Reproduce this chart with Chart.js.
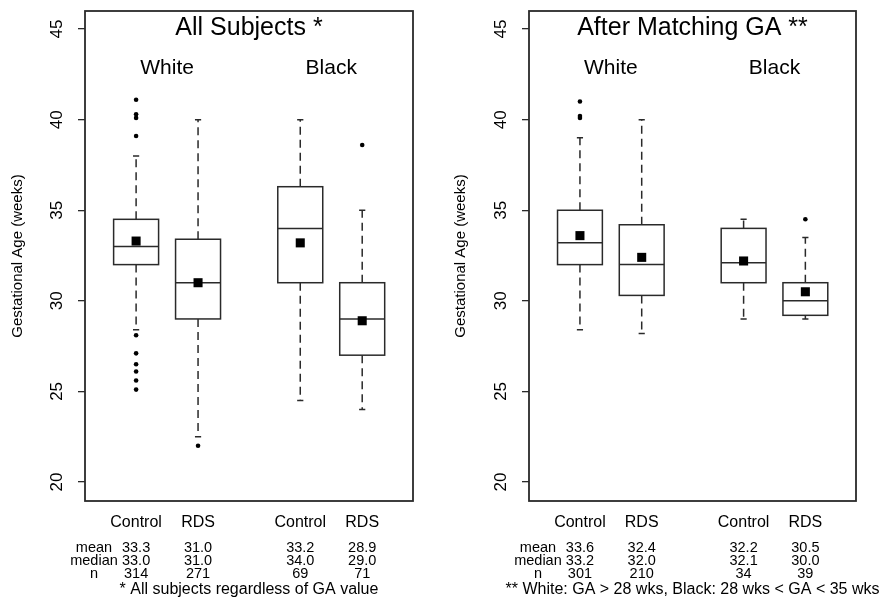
<!DOCTYPE html>
<html>
<head>
<meta charset="utf-8">
<script src="https://cdn.jsdelivr.net/npm/chart.js@4.4.1/dist/chart.umd.min.js"></script>
<style>
  body { margin: 0; background: #fff; }
  #wrap { position: relative; width: 882px; height: 599px; }
  canvas { position: absolute; top: 0; }
</style>
</head>
<body>
<div id="wrap">
  <canvas id="left" width="441" height="599" style="left:0"></canvas>
  <canvas id="right" width="441" height="599" style="left:441px"></canvas>
</div>
<script>
// shared labels / positions
const categories = ['Control', 'RDS', 'Control', 'RDS'];
const races = ['White', 'Black'];
const xPositions = [1, 2, 3.65, 4.65];
const yTicks = [20, 25, 30, 35, 40, 45];
const statLabels = ['mean', 'median', 'n'];

// panel 1: all subjects
const allLow = [28.4, 22.5, 24.5, 24.0];
const allQ1 = [32.0, 29.0, 31.0, 27.0];
const allMedian = [33.0, 31.0, 34.0, 29.0];
const allQ3 = [34.5, 33.4, 36.3, 31.0];
const allHigh = [38.0, 40.0, 40.0, 35.0];
const allMean = [33.3, 31.0, 33.2, 28.9];
const allN = [314, 271, 69, 71];
const allOutliers = [
    [41.1, 40.3, 40.1, 39.1, 28.1, 27.1, 26.5, 26.1, 25.6, 25.1],
    [22.0],
    [],
    [38.6]
];

// panel 2: after matching GA
const gaLow = [28.4, 28.2, 29.0, 29.0];
const gaQ1 = [32.0, 30.3, 31.0, 29.2];
const gaMedian = [33.2, 32.0, 32.1, 30.0];
const gaQ3 = [35.0, 34.2, 34.0, 31.0];
const gaHigh = [39.0, 40.0, 34.5, 33.5];
const gaMean = [33.6, 32.4, 32.2, 30.5];
const gaN = [301, 210, 34, 39];
const gaOutliers = [
    [41.0, 40.2, 40.1],
    [],
    [],
    [34.5]
];

const FONT = "'Liberation Sans', Arial, sans-serif";
const ink = '#000';
const lineCol = '#2a2a2a';
const boxHalf = 0.363;
const capHalf = 0.05;

const boxPlugin = {
    id: 'boxes',
    beforeDatasetsDraw(chart) {
        const p = chart.options.plugins.boxes;
        const { ctx } = chart;
        const xs = chart.scales.x, ys = chart.scales.y;
        ctx.save();
        ctx.strokeStyle = lineCol;
        ctx.lineWidth = 1.5;
        xPositions.forEach((pos, i) => {
            const cx = xs.getPixelForValue(pos);
            const hw = xs.getPixelForValue(pos + boxHalf) - cx;
            const cw = xs.getPixelForValue(pos + capHalf) - cx;
            const yq1 = ys.getPixelForValue(p.q1[i]);
            const yq3 = ys.getPixelForValue(p.q3[i]);
            const ymed = ys.getPixelForValue(p.median[i]);
            const ylo = ys.getPixelForValue(p.low[i]);
            const yhi = ys.getPixelForValue(p.high[i]);
            // whiskers
            ctx.setLineDash([8, 5]);
            ctx.beginPath();
            ctx.moveTo(cx, yq3); ctx.lineTo(cx, yhi);
            ctx.moveTo(cx, yq1); ctx.lineTo(cx, ylo);
            ctx.stroke();
            ctx.setLineDash([]);
            ctx.beginPath();
            ctx.moveTo(cx - cw, yhi); ctx.lineTo(cx + cw, yhi);
            ctx.moveTo(cx - cw, ylo); ctx.lineTo(cx + cw, ylo);
            ctx.stroke();
            // box
            ctx.fillStyle = '#fff';
            ctx.fillRect(cx - hw, yq3, hw * 2, yq1 - yq3);
            ctx.strokeRect(cx - hw, yq3, hw * 2, yq1 - yq3);
            ctx.beginPath();
            ctx.moveTo(cx - hw, ymed); ctx.lineTo(cx + hw, ymed);
            ctx.stroke();
        });
        ctx.restore();
    },
    afterDraw(chart) {
        const p = chart.options.plugins.boxes;
        const { ctx, chartArea: a } = chart;
        const xs = chart.scales.x, ys = chart.scales.y;
        const mid = (a.left + a.right) / 2;
        ctx.save();
        // frame
        ctx.strokeStyle = lineCol;
        ctx.lineWidth = 1.8;
        ctx.strokeRect(a.left, a.top, a.right - a.left, a.bottom - a.top);

        ctx.fillStyle = ink;
        // y tick labels, rotated like R
        ctx.font = '17px ' + FONT;
        ctx.textAlign = 'center';
        ctx.textBaseline = 'middle';
        yTicks.forEach(v => {
            ctx.save();
            ctx.translate(a.left - 29, ys.getPixelForValue(v));
            ctx.rotate(-Math.PI / 2);
            ctx.fillText(String(v), 0, 1);
            ctx.restore();
        });

        ctx.textBaseline = 'alphabetic';
        // title
        ctx.font = '25px ' + FONT;
        ctx.fillText(p.title, mid, a.top + 24);
        // race labels
        ctx.font = '21px ' + FONT;
        races.forEach((r, k) => {
            const x = xs.getPixelForValue((xPositions[2 * k] + xPositions[2 * k + 1]) / 2);
            ctx.fillText(r, x, a.top + 63);
        });
        // category labels
        ctx.font = '16px ' + FONT;
        categories.forEach((c, i) => {
            ctx.fillText(c, xs.getPixelForValue(xPositions[i]), a.bottom + 26);
        });
        // stats table
        ctx.font = '14.5px ' + FONT;
        const rows = [p.mean.map(v => v.toFixed(1)), p.median.map(v => v.toFixed(1)), p.n.map(String)];
        statLabels.forEach((lab, r) => {
            const y = a.bottom + 51 + r * 13;
            ctx.fillText(lab, xs.getPixelForValue(0.32), y);
            rows[r].forEach((t, i) => ctx.fillText(t, xs.getPixelForValue(xPositions[i]), y));
        });
        // footnote
        ctx.font = '16px ' + FONT;
        ctx.fillText(p.note, mid, a.bottom + 93);
        ctx.restore();
    }
};

function makePanel(id, d, lay) {
    const outlierPts = [];
    d.outliers.forEach((list, i) => list.forEach(v => outlierPts.push({ x: xPositions[i], y: v })));
    return new Chart(document.getElementById(id), {
        type: 'scatter',
        data: {
            datasets: [
                {
                    label: 'mean',
                    data: d.mean.map((v, i) => ({ x: xPositions[i], y: v })),
                    pointStyle: 'rect',
                    pointRadius: 6.4,
                    backgroundColor: '#000',
                    borderWidth: 0
                },
                {
                    label: 'outliers',
                    data: outlierPts,
                    pointStyle: 'circle',
                    pointRadius: 2.3,
                    backgroundColor: '#000',
                    borderWidth: 0
                }
            ]
        },
        options: {
            responsive: false,
            animation: false,
            devicePixelRatio: 1,
            layout: { padding: { top: 11, bottom: 98, left: 0, right: lay.padRight } },
            plugins: {
                legend: { display: false },
                tooltip: { enabled: false },
                boxes: d
            },
            scales: {
                x: { type: 'linear', min: 0.175, max: 5.47, display: false },
                y: {
                    type: 'linear',
                    position: 'left',
                    min: 18.95,
                    max: 46.0,
                    afterFit: s => { s.width = lay.axisWidth; },
                    afterBuildTicks: s => { s.ticks = yTicks.map(v => ({ value: v })); },
                    ticks: { display: false },
                    grid: { drawOnChartArea: false, drawTicks: true, tickLength: 7, color: lineCol, lineWidth: 1.3 },
                    border: { display: false },
                    title: {
                        display: true,
                        text: 'Gestational Age (weeks)',
                        color: ink,
                        font: { family: FONT, size: 15 },
                        padding: { top: lay.titlePad, bottom: 0 }
                    }
                }
            }
        },
        plugins: [boxPlugin]
    });
}

makePanel('left', {
    title: 'All Subjects *',
    note: '* All subjects regardless of GA value',
    low: allLow, q1: allQ1, median: allMedian, q3: allQ3, high: allHigh,
    mean: allMean, n: allN, outliers: allOutliers
}, { axisWidth: 85, padRight: 28, titlePad: 9 });

makePanel('right', {
    title: 'After Matching GA **',
    note: '** White: GA > 28 wks, Black: 28 wks < GA < 35 wks',
    low: gaLow, q1: gaQ1, median: gaMedian, q3: gaQ3, high: gaHigh,
    mean: gaMean, n: gaN, outliers: gaOutliers
}, { axisWidth: 88, padRight: 26, titlePad: 11 });
</script>
</body>
</html>
